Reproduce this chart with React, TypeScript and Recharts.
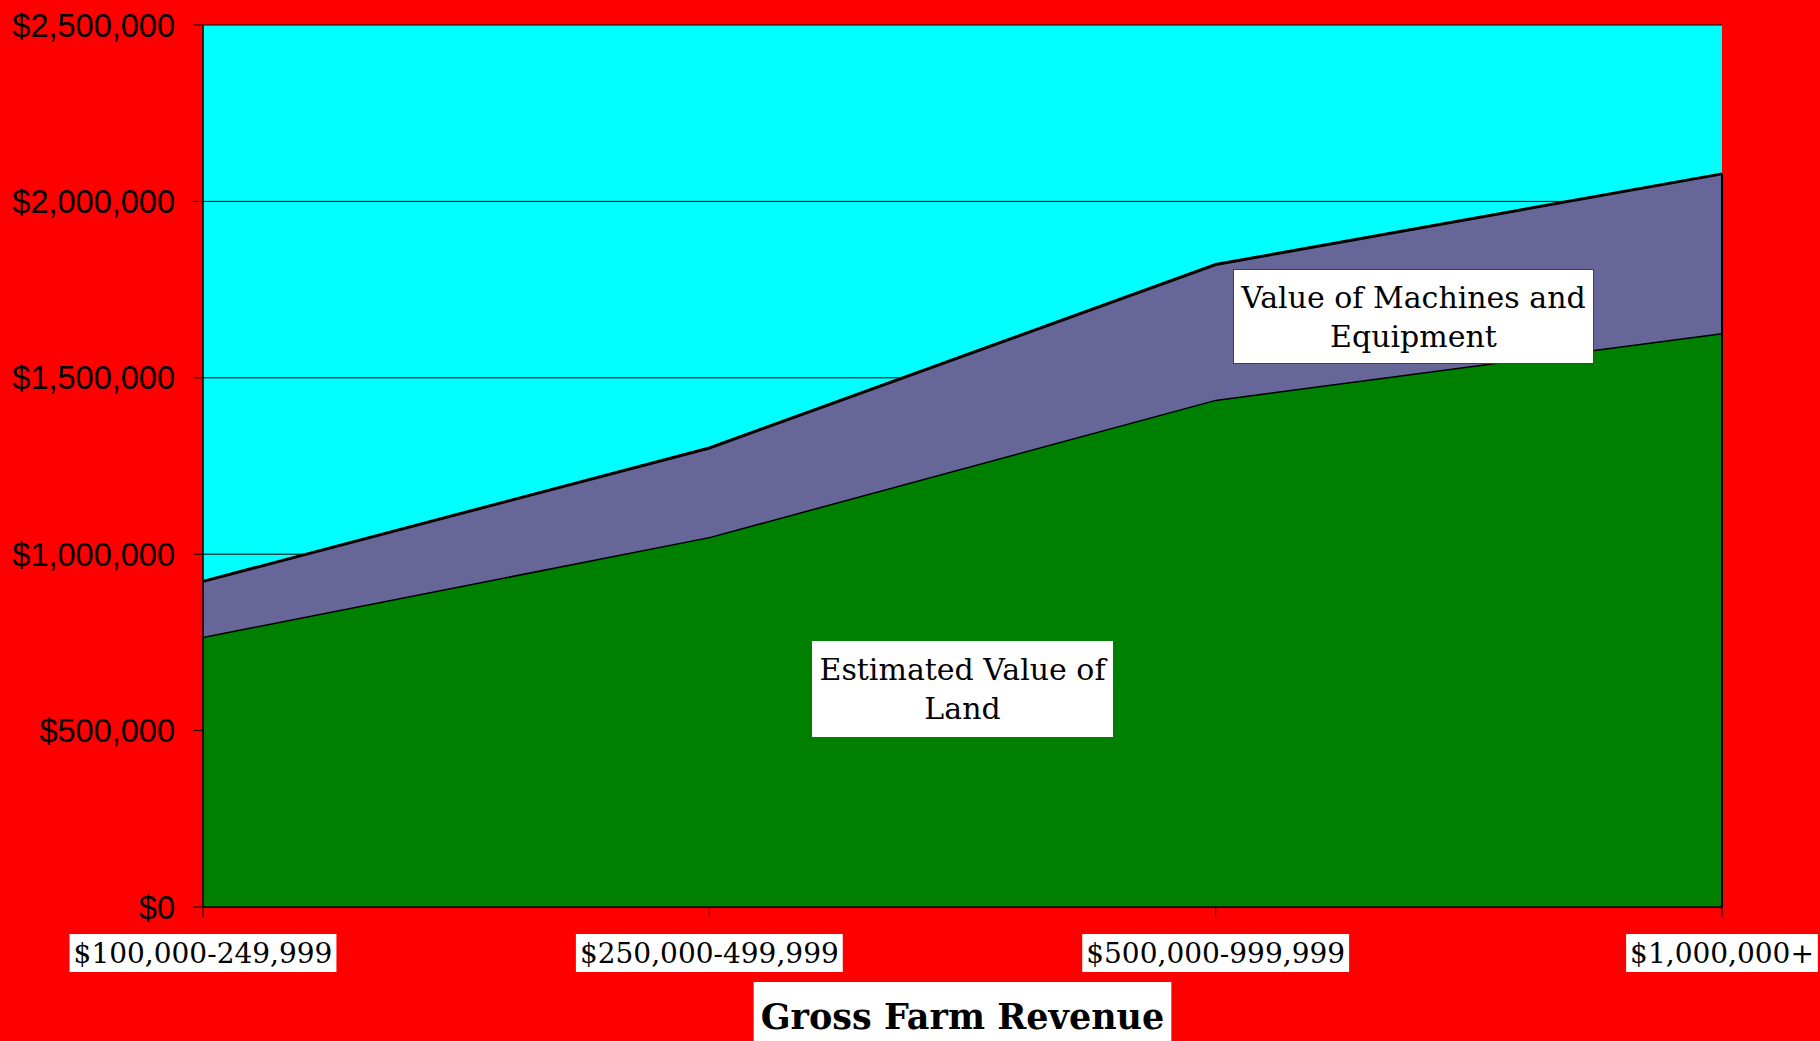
import { useLayoutEffect, useRef, useState } from 'react';
import { AreaChart, Area, XAxis, YAxis, CartesianGrid, ReferenceLine, Label } from 'recharts';

const REVENUE_CLASSES = ['$100,000-249,999', '$250,000-499,999', '$500,000-999,999', '$1,000,000+'];
const LAND_VALUE = [766000, 1049000, 1438000, 1627000];
const MACHINE_VALUE = [157000, 252000, 383000, 451000];
const Y_TICKS = [0, 500000, 1000000, 1500000, 2000000, 2500000];

const data = REVENUE_CLASSES.map((c, i) => ({ revenue: c, land: LAND_VALUE[i], machines: MACHINE_VALUE[i] }));
const last = data[data.length - 1];

const SLAB = '"DejaVu Serif", serif';
const fmtDollars = (v: number) => '$' + v.toLocaleString('en-US');

// x tick label sitting on a white box, like the Excel original
function BoxedTick({ x, y, payload }: any) {
  const ref = useRef<SVGTextElement>(null);
  const [w, setW] = useState(0);
  useLayoutEffect(() => {
    if (ref.current) setW(ref.current.getBBox().width);
  }, [payload.value]);
  return (
    <g transform={`translate(${x},${y})`}>
      <rect x={-w / 2 - 4} y={15} width={w + 8} height={38} fill="#fff" />
      <text ref={ref} x={0} y={44} textAnchor="middle" fontFamily={SLAB} fontSize={28} fill="#000">
        {payload.value}
      </text>
    </g>
  );
}

function AxisTitle({ viewBox }: any) {
  const ref = useRef<SVGTextElement>(null);
  const [w, setW] = useState(0);
  useLayoutEffect(() => {
    if (ref.current) setW(ref.current.getBBox().width);
  }, []);
  const cx = viewBox.x + viewBox.width / 2;
  return (
    <g>
      <rect x={cx - w / 2 - 7} y={viewBox.y + 75} width={w + 14} height={70} fill="#fff" />
      <text ref={ref} x={cx} y={viewBox.y + 122} textAnchor="middle" fontFamily={SLAB} fontWeight="bold" fontSize={35} fill="#000">
        Gross Farm Revenue
      </text>
    </g>
  );
}

const noteStyle: React.CSSProperties = {
  position: 'absolute',
  background: '#fff',
  boxSizing: 'border-box',
  display: 'flex',
  alignItems: 'center',
  justifyContent: 'center',
  textAlign: 'center',
  fontFamily: SLAB,
  fontSize: 30,
  lineHeight: '39px',
  color: '#000',
  whiteSpace: 'nowrap',
};

export default function App() {
  return (
    <div style={{ position: 'absolute', left: 0, top: 0, width: 1820, height: 1041, background: '#FF0000', overflow: 'hidden' }}>
      <AreaChart width={1820} height={1041} data={data} margin={{ top: 25, right: 98, left: 0, bottom: 0 }}>
        <CartesianGrid vertical={false} fill="#00FFFF" stroke="#000" strokeWidth={1} />
        <XAxis
          dataKey="revenue"
          height={134}
          axisLine={{ stroke: '#000', strokeWidth: 1.5 }}
          tickLine={{ stroke: '#000' }}
          tickSize={10}
          tick={<BoxedTick />}
          interval={0}
        >
          <Label content={<AxisTitle />} />
        </XAxis>
        <YAxis
          width={203}
          domain={[0, 2500000]}
          ticks={Y_TICKS}
          tickFormatter={fmtDollars}
          axisLine={{ stroke: '#000', strokeWidth: 1.5 }}
          tickLine={{ stroke: '#000' }}
          tickSize={10}
          tickMargin={18}
          tick={{ fill: '#000', fontSize: 32.5, fontFamily: '"Liberation Sans", Arial, sans-serif' }}
        />
        <Area type="linear" dataKey="land" stackId="1" stroke="#000" strokeWidth={3} fill="#008000" fillOpacity={1} isAnimationActive={false} />
        <Area type="linear" dataKey="machines" stackId="1" stroke="#000" strokeWidth={3} fill="#666699" fillOpacity={1} isAnimationActive={false} />
        <ReferenceLine
          segment={[{ x: last.revenue, y: 0 }, { x: last.revenue, y: last.land + last.machines }]}
          stroke="#000"
          strokeWidth={2}
        />
      </AreaChart>
      <div style={{ ...noteStyle, left: 1233, top: 269, width: 361, height: 95, border: '1px solid #404040' }}>
        <div>Value of Machines and<br />Equipment</div>
      </div>
      <div style={{ ...noteStyle, left: 812, top: 641, width: 301, height: 96 }}>
        <div>Estimated Value of<br />Land</div>
      </div>
    </div>
  );
}
